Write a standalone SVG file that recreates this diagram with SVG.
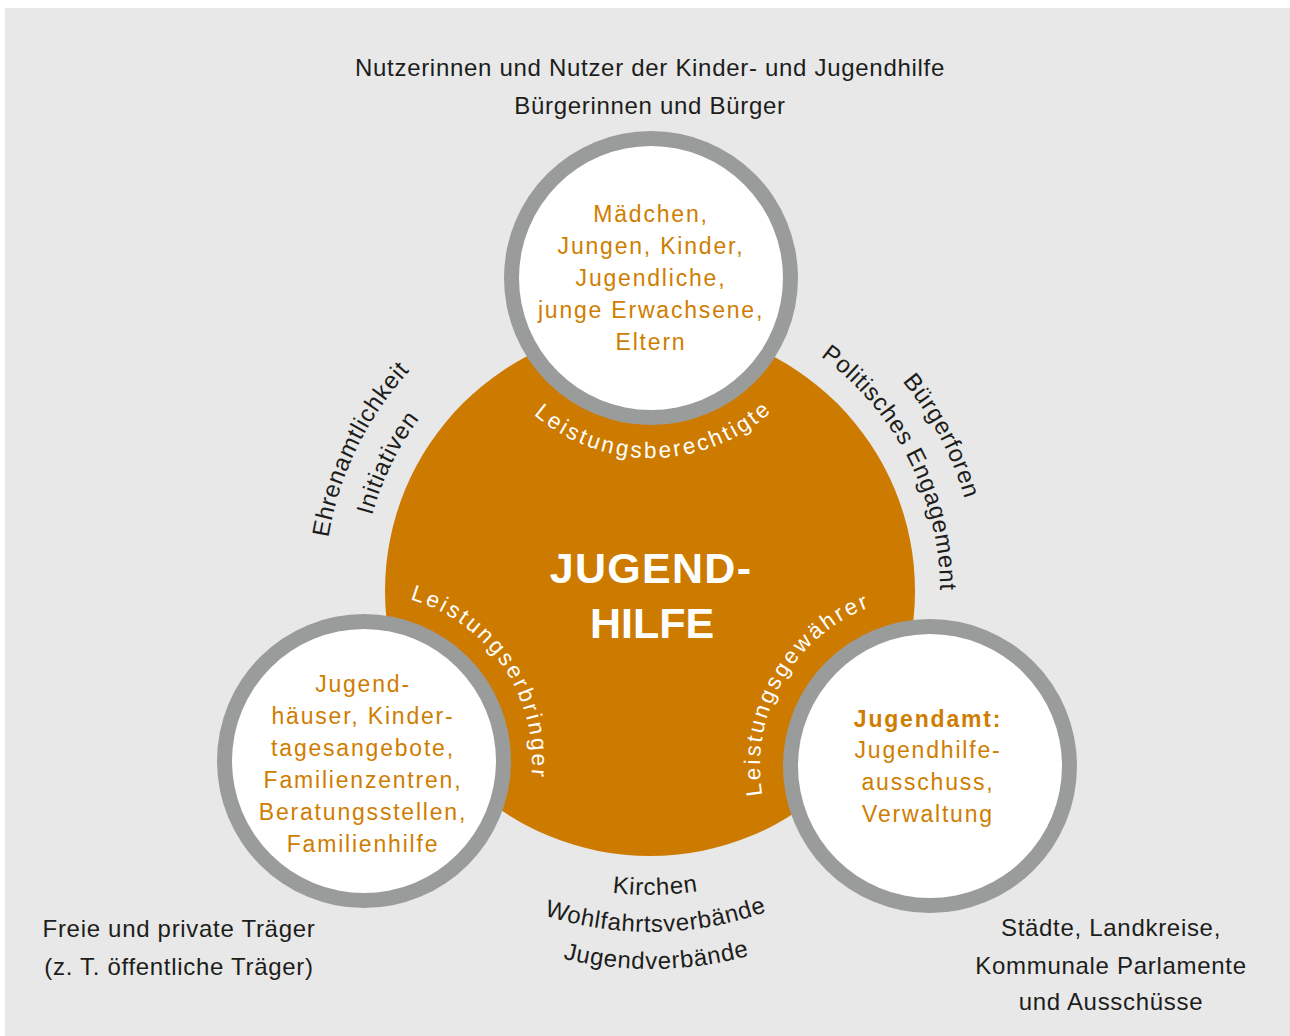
<svg xmlns="http://www.w3.org/2000/svg" xmlns:xlink="http://www.w3.org/1999/xlink" width="1290" height="1036" viewBox="0 0 1290 1036">
  <style>
    text { font-family: "Liberation Sans", Arial, sans-serif; }
    .lbl { font-size: 24px; letter-spacing: 0.7px; fill: #1d1d1b; text-anchor: middle; }
    .nt { font-size: 23px; letter-spacing: 1.8px; fill: #cf7d00; text-anchor: middle; }
    .ntb { font-weight: bold; }
    .role { font-size: 22.5px; letter-spacing: 2.7px; fill: #ffffff; text-anchor: middle; }
    .title { font-size: 43px; font-weight: bold; fill: #ffffff; text-anchor: middle; }
    .ring { fill: #9a9c9b; }
    .inner { fill: #ffffff; }
  </style>
  <defs>
    <path id="pTop" d="M 496.7 370.7 A 180 180 0 0 0 808.4 365.3"/>
    <path id="pBL" d="M 352.3 593.4 A 168 168 0 0 1 515.0 834.6"/>
    <path id="pBR" d="M 782.8 851 A 170 170 0 0 1 930 596"/>
    <path id="pInit" d="M 370.6 660.7 A 288 288 0 0 1 532.9 327.9"/>
    <path id="pEhren" d="M 333.7 669.9 A 326 326 0 0 1 517.4 293.2"/>
    <path id="pPol" d="M 715.2 308.4 A 290 290 0 0 1 916.9 704.3"/>
    <path id="pBuerg" d="M 718.2 270.2 A 328 328 0 0 1 954.1 713.9"/>
    <path id="pKir" d="M 458.7 827.2 A 304 304 0 0 0 849.5 820.4"/>
    <path id="pWohl" d="M 435.4 856.0 A 341 341 0 0 0 873.7 848.4"/>
    <path id="pJug" d="M 412.1 884.7 A 378 378 0 0 0 898.0 876.3"/>
  </defs>

  <rect x="5" y="8" width="1285" height="1028" fill="#e8e8e8"/>

  <g id="jugendhilfe">
    <circle cx="650" cy="591" r="265" fill="#cd7b00"/>
    <text class="title" x="651" y="583" style="letter-spacing:1.3px">JUGEND-</text>
    <text class="title" x="652" y="638">HILFE</text>
  </g>

  <g id="connectors"></g>

  <g id="leistungsberechtigte">
    <circle class="ring" cx="651" cy="278" r="147"/>
    <circle class="inner" cx="651" cy="278" r="132"/>
    <text class="nt" x="651" y="222">Mädchen,</text>
    <text class="nt" x="651" y="254">Jungen, Kinder,</text>
    <text class="nt" x="651" y="286">Jugendliche,</text>
    <text class="nt" x="651" y="318">junge Erwachsene,</text>
    <text class="nt" x="651" y="350">Eltern</text>
    <text class="role"><textPath xlink:href="#pTop" href="#pTop" startOffset="50%">Leistungsberechtigte</textPath></text>
  </g>

  <g id="leistungserbringer">
    <circle class="ring" cx="364" cy="761" r="147"/>
    <circle class="inner" cx="364" cy="761" r="132"/>
    <text class="nt" x="363" y="692">Jugend-</text>
    <text class="nt" x="363" y="724">häuser, Kinder-</text>
    <text class="nt" x="363" y="756">tagesangebote,</text>
    <text class="nt" x="363" y="788">Familienzentren,</text>
    <text class="nt" x="363" y="820">Beratungsstellen,</text>
    <text class="nt" x="363" y="852">Familienhilfe</text>
    <text class="role"><textPath xlink:href="#pBL" href="#pBL" startOffset="50%">Leistungserbringer</textPath></text>
  </g>

  <g id="leistungsgewaehrer">
    <circle class="ring" cx="930" cy="766" r="147"/>
    <circle class="inner" cx="930" cy="766" r="132"/>
    <text class="nt ntb" x="928" y="727">Jugendamt:</text>
    <text class="nt" x="928" y="758">Jugendhilfe-</text>
    <text class="nt" x="928" y="790">ausschuss,</text>
    <text class="nt" x="928" y="822">Verwaltung</text>
    <text class="role"><textPath xlink:href="#pBR" href="#pBR" startOffset="50%">Leistungsgewährer</textPath></text>
  </g>

  <g id="labels-top">
    <text class="lbl" x="650" y="76">Nutzerinnen und Nutzer der Kinder- und Jugendhilfe</text>
    <text class="lbl" x="650" y="114">Bürgerinnen und Bürger</text>
  </g>

  <g id="labels-left">
    <text class="lbl"><textPath xlink:href="#pEhren" href="#pEhren" startOffset="50%">Ehrenamtlichkeit</textPath></text>
    <text class="lbl"><textPath xlink:href="#pInit" href="#pInit" startOffset="50%">Initiativen</textPath></text>
  </g>

  <g id="labels-right">
    <text class="lbl"><textPath xlink:href="#pBuerg" href="#pBuerg" startOffset="50%">Bürgerforen</textPath></text>
    <text class="lbl"><textPath xlink:href="#pPol" href="#pPol" startOffset="50%">Politisches Engagement</textPath></text>
  </g>

  <g id="labels-bottom">
    <text class="lbl"><textPath xlink:href="#pKir" href="#pKir" startOffset="50%">Kirchen</textPath></text>
    <text class="lbl"><textPath xlink:href="#pWohl" href="#pWohl" startOffset="50%">Wohlfahrtsverbände</textPath></text>
    <text class="lbl"><textPath xlink:href="#pJug" href="#pJug" startOffset="50%">Jugendverbände</textPath></text>
  </g>

  <g id="labels-bottom-left">
    <text class="lbl" x="179" y="937">Freie und private Träger</text>
    <text class="lbl" x="179" y="975">(z. T. öffentliche Träger)</text>
  </g>

  <g id="labels-bottom-right">
    <text class="lbl" x="1111" y="936">Städte, Landkreise,</text>
    <text class="lbl" x="1111" y="974">Kommunale Parlamente</text>
    <text class="lbl" x="1111" y="1010">und Ausschüsse</text>
  </g>
</svg>
